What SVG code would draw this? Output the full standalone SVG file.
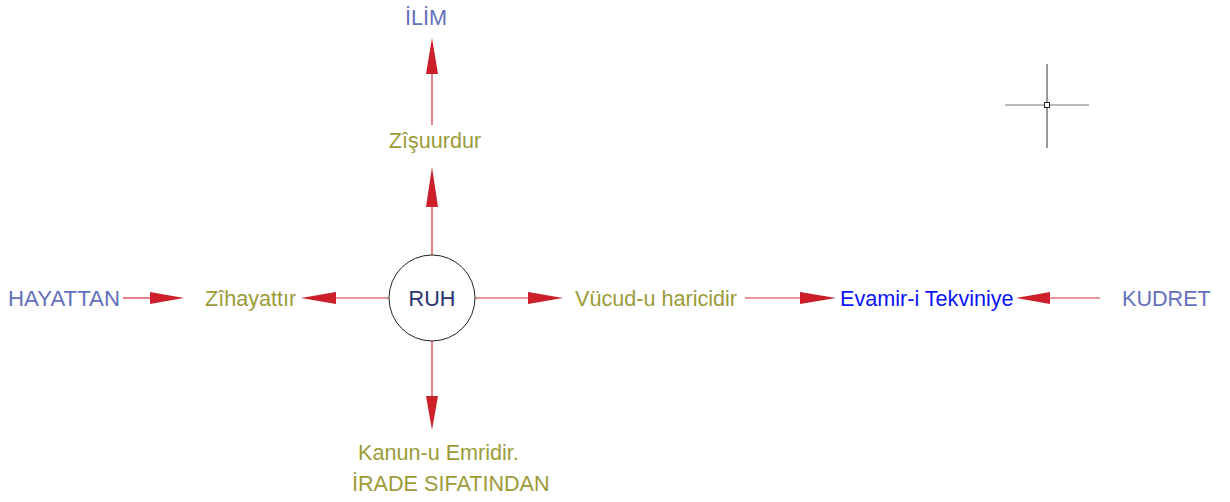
<svg xmlns="http://www.w3.org/2000/svg" width="1230" height="502" viewBox="0 0 1230 502">
<style>
text{font-family:"Liberation Sans",Arial,sans-serif;font-size:21.6px;dominant-baseline:central}
.o{fill:#9b9b38}
.g{fill:#6470bd}
.b{fill:#0a14f5}
.ln{stroke:#d8303a;stroke-width:1.2;fill:none}
.ah{fill:#cc1f2a}
</style>
<rect width="1230" height="502" fill="#fff"/>
<g id="connectors">
<line class="ln" x1="432" y1="255" x2="432" y2="205"/>
<polygon class="ah" points="432,167 426,207 438,207"/>
<line class="ln" x1="432" y1="125" x2="432" y2="72"/>
<polygon class="ah" points="432,38 426,74 438,74"/>
<line class="ln" x1="389" y1="298" x2="335" y2="298"/>
<polygon class="ah" points="301,298 336,292 336,304"/>
<line class="ln" x1="123" y1="298" x2="152" y2="298"/>
<polygon class="ah" points="184,298 150,292 150,304"/>
<line class="ln" x1="475" y1="298" x2="530" y2="298"/>
<polygon class="ah" points="563,298 528,292 528,304"/>
<line class="ln" x1="745" y1="298" x2="802" y2="298"/>
<polygon class="ah" points="836,298 800,292 800,304"/>
<line class="ln" x1="1100" y1="298" x2="1048" y2="298"/>
<polygon class="ah" points="1016,298 1050,292 1050,304"/>
<line class="ln" x1="432" y1="341" x2="432" y2="398"/>
<polygon class="ah" points="432,430 426,396 438,396"/>
</g>
<g id="ruh">
<circle cx="432" cy="298" r="43" fill="#fff" stroke="#222" stroke-width="1"/>
<text x="432" y="298" text-anchor="middle" fill="#27336e">RUH</text>
</g>
<g id="ilim"><text class="g" x="426" y="17" text-anchor="middle">İLİM</text></g>
<g id="zisuurdur"><text class="o" x="435" y="140" text-anchor="middle">Zîşuurdur</text></g>
<g id="hayattan"><text class="g" x="8" y="298" textLength="112" lengthAdjust="spacingAndGlyphs">HAYATTAN</text></g>
<g id="zihayattir"><text class="o" x="205" y="298">Zîhayattır</text></g>
<g id="vucud"><text class="o" x="575" y="298">Vücud-u haricidir</text></g>
<g id="evamir"><text class="b" x="840" y="298">Evamir-i Tekviniye</text></g>
<g id="kudret"><text class="g" x="1122" y="298">KUDRET</text></g>
<g id="kanun"><text class="o" x="358" y="452">Kanun-u Emridir.</text></g>
<g id="irade"><text class="o" x="352" y="483">İRADE SIFATINDAN</text></g>
<g id="cursor">
<line x1="1005" y1="105" x2="1044" y2="105" stroke="#777" stroke-width="1"/>
<line x1="1050" y1="105" x2="1089" y2="105" stroke="#777" stroke-width="1"/>
<line x1="1047" y1="64" x2="1047" y2="102" stroke="#333" stroke-width="1"/>
<line x1="1047" y1="108" x2="1047" y2="148" stroke="#333" stroke-width="1"/>
<rect x="1044.5" y="102.5" width="5" height="5" fill="#fff" stroke="#222" stroke-width="1"/>
</g>
</svg>
